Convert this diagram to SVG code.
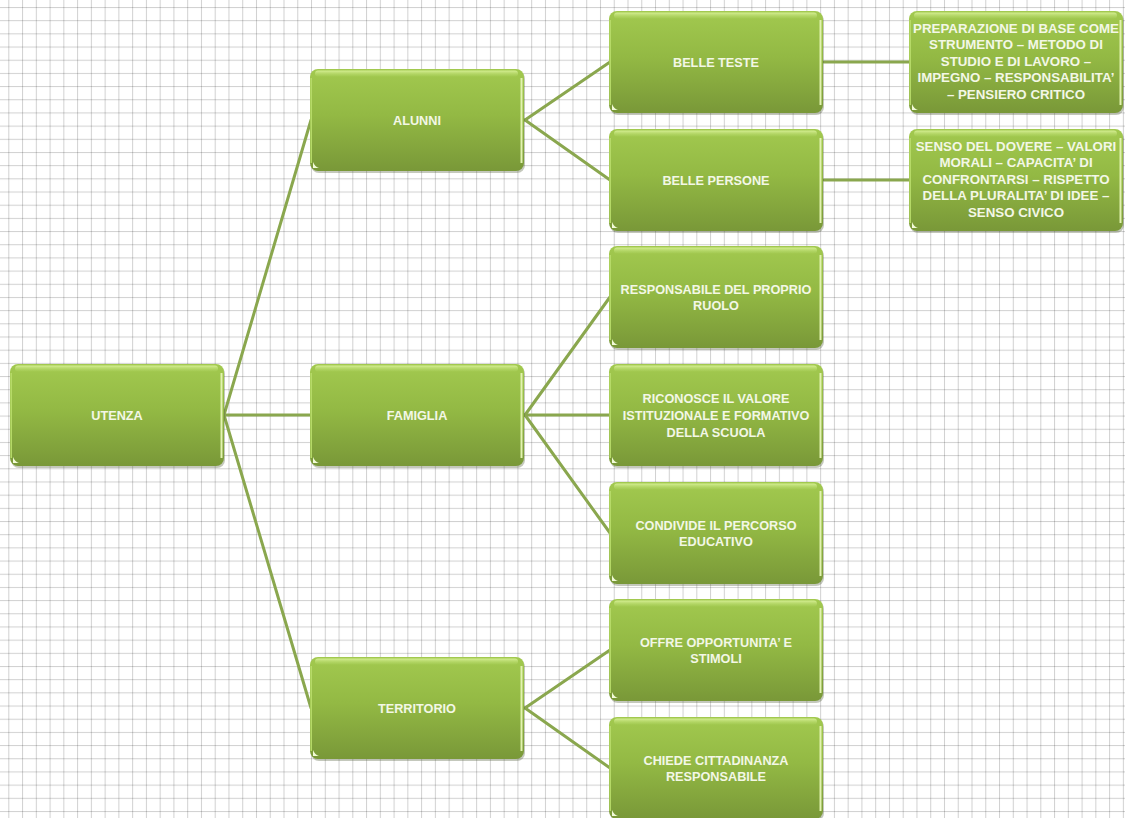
<svg xmlns="http://www.w3.org/2000/svg" xmlns:xlink="http://www.w3.org/1999/xlink" width="1125" height="818" viewBox="0 0 1125 818">
  <defs>
    <!-- squared paper background -->
    <pattern id="grid" x="8.3" y="7" width="13.76" height="13.18" patternUnits="userSpaceOnUse">
      <line x1="0" y1="0" x2="0" y2="13.18" stroke="#000" stroke-opacity="0.18" stroke-width="2"/>
      <line x1="0" y1="0" x2="13.76" y2="0" stroke="#000" stroke-opacity="0.18" stroke-width="2"/>
    </pattern>
    <linearGradient id="fill" x1="0" y1="0" x2="0" y2="1">
      <stop offset="0" stop-color="#a2c94f"/>
      <stop offset="0.45" stop-color="#93b944"/>
      <stop offset="1" stop-color="#799838"/>
    </linearGradient>
    <linearGradient id="shine" x1="0" y1="0" x2="0" y2="1">
      <stop offset="0" stop-color="#d6ef94"/>
      <stop offset="1" stop-color="#b3d866" stop-opacity="0.2"/>
    </linearGradient>
    <!-- rounded green box, 214 x 102 -->
    <g id="box">
      <rect x="1" y="2" width="214" height="102" rx="8" fill="#55603f" fill-opacity="0.35"/>
      <rect x="0" y="0" width="214" height="102" rx="8" fill="url(#fill)"/>
      <rect x="5" y="1.5" width="203" height="6" rx="3" fill="url(#shine)"/>
      <line x1="211.5" y1="9" x2="211.5" y2="94" stroke="#e2f3b0" stroke-width="2"/>
      <line x1="1.2" y1="9" x2="1.2" y2="94" stroke="#b8dc6a" stroke-width="1.5"/>
      <path d="M3,93 L3,99 L9,99 Q5,98 3,93 Z" fill="#f2fbd8"/>
    </g>
    <style>
      .conn { stroke: #8aa74e; stroke-width: 3; fill: none; stroke-linecap: round; }
      .lbl { font-family: "Liberation Sans", Arial, sans-serif; font-size: 12.7px; font-weight: bold; fill: #f3f7e6; text-anchor: middle; }
      .lbl4 { font-family: "Liberation Sans", Arial, sans-serif; font-size: 13.3px; font-weight: bold; fill: #f3f7e6; text-anchor: middle; }
    </style>
  </defs>

  <rect x="0" y="0" width="1125" height="818" fill="#ffffff"/>
  <rect x="0" y="0" width="1125" height="818" fill="url(#grid)"/>

  <!-- connectors -->
  <g id="connectors">
    <line class="conn" x1="224" y1="415" x2="311" y2="120"/>
    <line class="conn" x1="224" y1="415" x2="311" y2="415"/>
    <line class="conn" x1="224" y1="415" x2="311" y2="708"/>
    <line class="conn" x1="525" y1="120" x2="610" y2="62"/>
    <line class="conn" x1="525" y1="120" x2="610" y2="180"/>
    <line class="conn" x1="525" y1="415" x2="610" y2="297"/>
    <line class="conn" x1="525" y1="415" x2="610" y2="415"/>
    <line class="conn" x1="525" y1="415" x2="610" y2="533"/>
    <line class="conn" x1="525" y1="708" x2="610" y2="650"/>
    <line class="conn" x1="525" y1="708" x2="610" y2="768"/>
    <line class="conn" x1="824" y1="62" x2="910" y2="62"/>
    <line class="conn" x1="824" y1="180" x2="910" y2="180"/>
  </g>

  <!-- level 0 -->
  <g id="n-utenza" transform="translate(10,364)">
    <use href="#box"/>
    <text class="lbl" x="107" y="55.5">UTENZA</text>
  </g>

  <!-- level 1 -->
  <g id="n-alunni" transform="translate(310,69)">
    <use href="#box"/>
    <text class="lbl" x="107" y="55.5">ALUNNI</text>
  </g>
  <g id="n-famiglia" transform="translate(310,364)">
    <use href="#box"/>
    <text class="lbl" x="107" y="55.5">FAMIGLIA</text>
  </g>
  <g id="n-territorio" transform="translate(310,657)">
    <use href="#box"/>
    <text class="lbl" x="107" y="55.5">TERRITORIO</text>
  </g>

  <!-- level 2 -->
  <g id="n-belle-teste" transform="translate(609,11)">
    <use href="#box"/>
    <text class="lbl" x="107" y="55.5">BELLE TESTE</text>
  </g>
  <g id="n-belle-persone" transform="translate(609,129)">
    <use href="#box"/>
    <text class="lbl" x="107" y="55.5">BELLE PERSONE</text>
  </g>
  <g id="n-responsabile" transform="translate(609,246)">
    <use href="#box"/>
    <text class="lbl" x="107" y="47.5">RESPONSABILE DEL PROPRIO</text>
    <text class="lbl" x="107" y="64">RUOLO</text>
  </g>
  <g id="n-riconosce" transform="translate(609,364)">
    <use href="#box"/>
    <text class="lbl" x="107" y="38.5">RICONOSCE IL VALORE</text>
    <text class="lbl" x="107" y="55.5">ISTITUZIONALE E FORMATIVO</text>
    <text class="lbl" x="107" y="72.5">DELLA SCUOLA</text>
  </g>
  <g id="n-condivide" transform="translate(609,482)">
    <use href="#box"/>
    <text class="lbl" x="107" y="47.5">CONDIVIDE IL PERCORSO</text>
    <text class="lbl" x="107" y="64">EDUCATIVO</text>
  </g>
  <g id="n-offre" transform="translate(609,599)">
    <use href="#box"/>
    <text class="lbl" x="107" y="47.5">OFFRE OPPORTUNITA’ E</text>
    <text class="lbl" x="107" y="64">STIMOLI</text>
  </g>
  <g id="n-chiede" transform="translate(609,717)">
    <use href="#box"/>
    <text class="lbl" x="107" y="47.5">CHIEDE CITTADINANZA</text>
    <text class="lbl" x="107" y="64">RESPONSABILE</text>
  </g>

  <!-- level 3 -->
  <g id="n-preparazione" transform="translate(909,11)">
    <use href="#box"/>
    <text class="lbl4" x="107" y="21.5">PREPARAZIONE DI BASE COME</text>
    <text class="lbl4" x="107" y="38">STRUMENTO – METODO DI</text>
    <text class="lbl4" x="107" y="54.5">STUDIO E DI LAVORO –</text>
    <text class="lbl4" x="107" y="71">IMPEGNO – RESPONSABILITA’</text>
    <text class="lbl4" x="107" y="88">– PENSIERO CRITICO</text>
  </g>
  <g id="n-senso" transform="translate(909,129)">
    <use href="#box"/>
    <text class="lbl4" x="107" y="21.5">SENSO DEL DOVERE – VALORI</text>
    <text class="lbl4" x="107" y="38">MORALI – CAPACITA’ DI</text>
    <text class="lbl4" x="107" y="54.5">CONFRONTARSI – RISPETTO</text>
    <text class="lbl4" x="107" y="71">DELLA PLURALITA’ DI IDEE –</text>
    <text class="lbl4" x="107" y="88">SENSO CIVICO</text>
  </g>
</svg>
